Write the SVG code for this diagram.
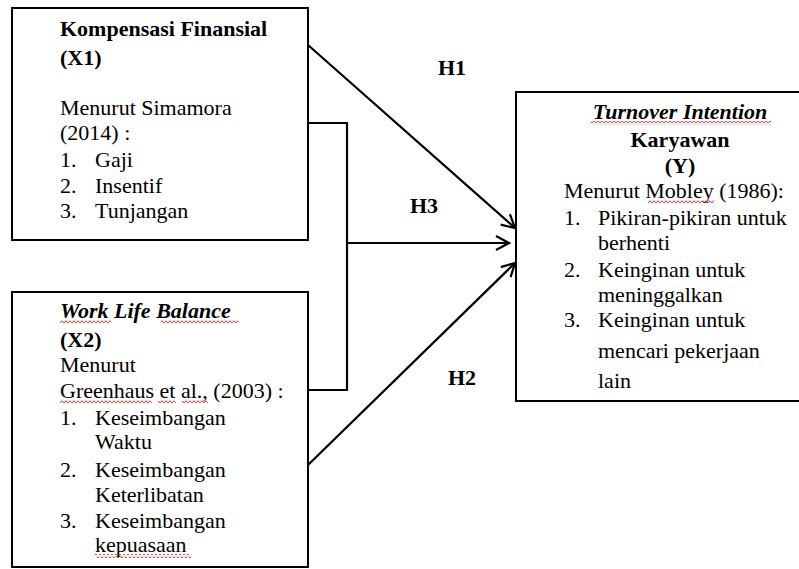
<svg xmlns="http://www.w3.org/2000/svg" width="799" height="569" viewBox="0 0 799 569">
<defs>
<style>
text{font-family:"Liberation Serif","Times New Roman",serif;font-size:22px;fill:#000}
.b{font-weight:bold}
.bi{font-weight:bold;font-style:italic}
.box{fill:#fff;stroke:#000;stroke-width:2}
.ln{fill:none;stroke:#000;stroke-width:2.2}
.sq{fill:url(#wavy)}
</style>
<pattern id="wavy" patternUnits="userSpaceOnUse" width="4" height="4">
<path d="M0,3 L1,1.5 L2,0.8 L3,2.2 L4,3" fill="none" stroke="#e02020" stroke-width="0.9"/>
</pattern>
<marker id="ah" markerUnits="userSpaceOnUse" markerWidth="16" markerHeight="18" refX="14" refY="8" orient="auto">
<path d="M1,1 L14,8 L1,15" fill="none" stroke="#000" stroke-width="2.2"/>
</marker>
</defs>
<rect width="799" height="569" fill="#fff"/>

<g id="connectors">
<path class="ln" d="M308,45 L515,228" marker-end="url(#ah)"/>
<path class="ln" d="M308,123 H347 V390 H308"/>
<path class="ln" d="M347,243 H509" marker-end="url(#ah)"/>
<path class="ln" d="M308,465 L515,263" marker-end="url(#ah)"/>
<text class="b" x="438" y="75">H1</text>
<text class="b" x="410" y="213">H3</text>
<text class="b" x="448" y="385">H2</text>
</g>

<g id="x1">
<rect class="box" x="12" y="8" width="296" height="232"/>
<text class="b" x="60" y="36">Kompensasi Finansial</text>
<text class="b" x="60" y="65">(X1)</text>
<text x="60" y="115">Menurut Simamora</text>
<text x="60" y="140">(2014) :</text>
<text x="60" y="167">1.</text><text x="95" y="167">Gaji</text>
<text x="60" y="193">2.</text><text x="95" y="193">Insentif</text>
<text x="60" y="218">3.</text><text x="95" y="218">Tunjangan</text>
</g>

<g id="x2">
<rect class="box" x="12" y="292" width="296" height="275"/>
<text class="bi" x="60" y="318">Work Life Balance</text>
<rect class="sq" x="60" y="320" width="51" height="4"/>
<rect class="sq" x="161" y="320" width="77" height="4"/>
<text class="b" x="60" y="347">(X2)</text>
<text x="60" y="372">Menurut</text>
<text x="60" y="398">Greenhaus et al., (2003) :</text>
<rect class="sq" x="60" y="400" width="92" height="4"/>
<rect class="sq" x="158" y="400" width="18" height="4"/>
<rect class="sq" x="182" y="400" width="26" height="4"/>
<text x="60" y="425">1.</text><text x="95" y="425">Keseimbangan</text>
<text x="95" y="449">Waktu</text>
<text x="60" y="477">2.</text><text x="95" y="477">Keseimbangan</text>
<text x="95" y="502">Keterlibatan</text>
<text x="60" y="528">3.</text><text x="95" y="528">Keseimbangan</text>
<text x="95" y="552">kepuasaan</text>
<rect class="sq" x="95" y="554" width="96" height="4"/>
</g>

<g id="y">
<rect class="box" x="516" y="92" width="290" height="309"/>
<text class="bi" x="680" y="119" text-anchor="middle">Turnover Intention</text>
<rect class="sq" x="591" y="121" width="180" height="4"/>
<text class="b" x="680" y="147" text-anchor="middle">Karyawan</text>
<text class="b" x="680" y="173" text-anchor="middle">(Y)</text>
<text x="564" y="198">Menurut Mobley (1986):</text>
<rect class="sq" x="648" y="200" width="66" height="4"/>
<text x="564" y="225">1.</text><text x="598" y="225">Pikiran-pikiran untuk</text>
<text x="598" y="250">berhenti</text>
<text x="564" y="277">2.</text><text x="598" y="277">Keinginan untuk</text>
<text x="598" y="302">meninggalkan</text>
<text x="564" y="327">3.</text><text x="598" y="327">Keinginan untuk</text>
<text x="598" y="358">mencari pekerjaan</text>
<text x="598" y="388">lain</text>
</g>
</svg>
